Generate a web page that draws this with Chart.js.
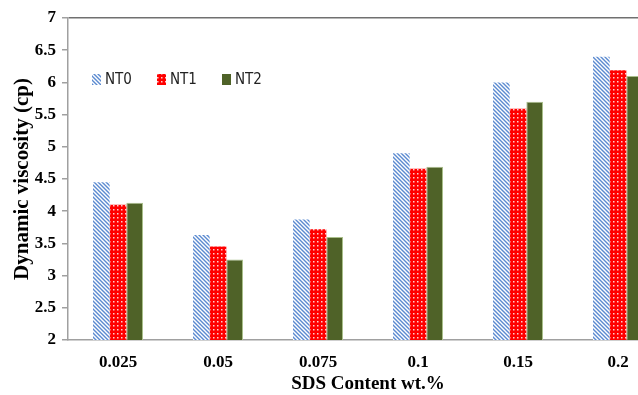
<!DOCTYPE html>
<html>
<head>
    <title>Dynamic viscosity</title>
    <script src="https://cdn.jsdelivr.net/npm/chart.js"></script>
    <style>
        body {
            margin: 0;
            overflow: hidden;
            background: white;
        }
        .chart-container {
            width: 672px;
            height: 395px;
        }
    </style>
</head>
<body>
    <div class="chart-container">
        <canvas id="viscosityChart"></canvas>
    </div>

    <script>
        const categories = ['0.025', '0.05', '0.075', '0.1', '0.15', '0.2'];
        const seriesNames = ['NT0', 'NT1', 'NT2'];
        const nt0 = [4.45, 3.63, 3.87, 4.90, 6.00, 6.40];
        const nt1 = [4.10, 3.45, 3.72, 4.66, 5.59, 6.19];
        const nt2 = [4.13, 3.25, 3.60, 4.69, 5.70, 6.10];
        const yTicks = [2, 2.5, 3, 3.5, 4, 4.5, 5, 5.5, 6, 6.5, 7];

        function stripePattern() {
            const c = document.createElement('canvas');
            c.width = 4; c.height = 4;
            const g = c.getContext('2d');
            g.fillStyle = '#ffffff';
            g.fillRect(0, 0, 4, 4);
            g.strokeStyle = '#5b8ad0';
            g.lineWidth = 1.4;
            g.beginPath();
            g.moveTo(-1, -1); g.lineTo(5, 5);
            g.moveTo(-1, 3); g.lineTo(1, 5);
            g.moveTo(3, -1); g.lineTo(5, 1);
            g.stroke();
            return g.createPattern(c, 'repeat');
        }

        function dotPattern() {
            const c = document.createElement('canvas');
            c.width = 4; c.height = 4;
            const g = c.getContext('2d');
            g.fillStyle = '#ff0000';
            g.fillRect(0, 0, 4, 4);
            g.fillStyle = '#ffd0d0';
            g.fillRect(1, 1, 1.5, 1.5);
            return g.createPattern(c, 'repeat');
        }

        const fills = [stripePattern(), dotPattern(), '#4f6228'];

        // legend drawn inside the plot area
        const insideLegend = {
            id: 'insideLegend',
            afterDraw(chart) {
                const ctx = chart.ctx;
                const xs = [92, 157, 222];
                ctx.save();
                ctx.font = '15px "DejaVu Sans Condensed", "Liberation Sans", Arial';
                ctx.textBaseline = 'middle';
                chart.data.datasets.forEach((ds, i) => {
                    ctx.fillStyle = ds.backgroundColor;
                    ctx.fillRect(xs[i], 74, 9, 11);
                    ctx.fillStyle = '#222';
                    ctx.fillText(ds.label, xs[i] + 13, 80);
                });
                ctx.restore();
            }
        };

        const data = {
            labels: categories,
            datasets: [
                { label: seriesNames[0], data: nt0, backgroundColor: fills[0] },
                { label: seriesNames[1], data: nt1, backgroundColor: fills[1] },
                { label: seriesNames[2], data: nt2, backgroundColor: fills[2],
                  borderColor: '#a9bf8a', borderWidth: 1 }
            ]
        };

        const serif = '"Liberation Serif", "Times New Roman", serif';
        const tickFont = { family: serif, size: 17, weight: 'bold' };

        new Chart(document.getElementById('viscosityChart'), {
            type: 'bar',
            data: data,
            plugins: [insideLegend],
            options: {
                responsive: true,
                maintainAspectRatio: false,
                animation: false,
                layout: { padding: { top: 18, right: 4, left: 10, bottom: 0 } },
                datasets: { bar: { categoryPercentage: 0.5, barPercentage: 1.0 } },
                plugins: {
                    legend: { display: false },
                    tooltip: { enabled: false }
                },
                scales: {
                    x: {
                        grid: { display: false },
                        border: { color: '#a0a0a0', width: 1.5 },
                        ticks: { color: '#000', font: tickFont, padding: 4 },
                        title: {
                            display: true, text: 'SDS Content wt.%', color: '#000',
                            font: { family: serif, size: 19, weight: 'bold' },
                            padding: { top: 2, bottom: 0 }
                        },
                        afterFit(scale) { scale.height = 55; }
                    },
                    y: {
                        min: 2, max: 7,
                        afterBuildTicks(scale) { scale.ticks = yTicks.map(v => ({ value: v })); },
                        grid: {
                            drawOnChartArea: true,
                            color: ctx => (ctx.tick && ctx.tick.value === 7) ? '#707070' : 'rgba(0,0,0,0)',
                            tickColor: '#a0a0a0',
                            tickLength: 6,
                            lineWidth: 1.5
                        },
                        border: { color: '#a0a0a0', width: 1.5 },
                        ticks: { color: '#000', font: tickFont, padding: 6, callback: v => String(v) },
                        title: {
                            display: true, text: 'Dynamic viscosity (cp)', color: '#000',
                            font: { family: serif, size: 21, weight: 'bold' },
                            padding: { top: 0, bottom: 0 }
                        },
                        afterFit(scale) { scale.width = 58; }
                    }
                }
            }
        });
    </script>
</body>
</html>
